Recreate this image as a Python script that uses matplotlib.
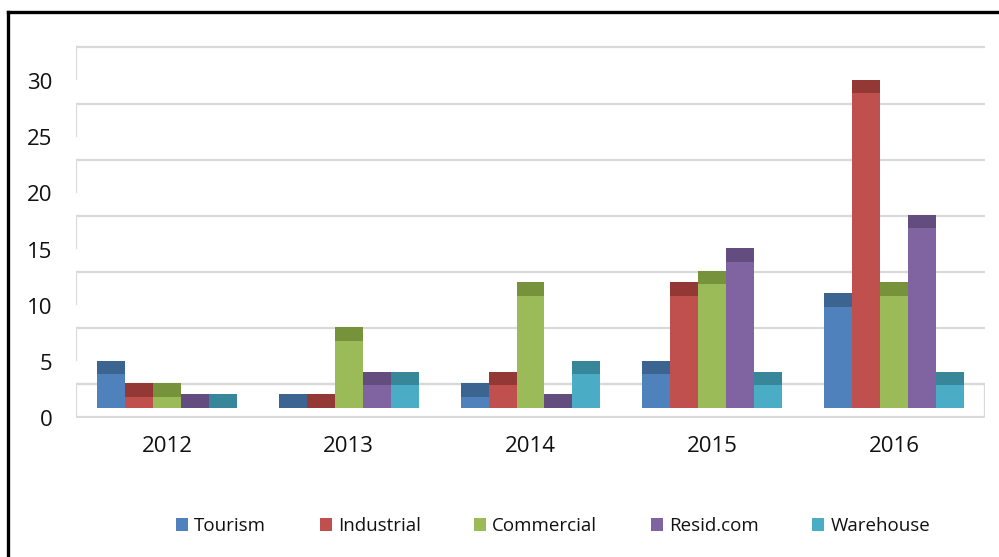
import matplotlib

matplotlib.use("Agg")
import matplotlib.pyplot as plt
import numpy as np
from matplotlib.lines import Line2D
from matplotlib.patches import Patch, Rectangle

plt.rcParams["font.family"] = ["Open Sans", "DejaVu Sans"]

# ---- Data ---------------------------------------------------------------
years = ["2012", "2013", "2014", "2015", "2016"]
series = ["Tourism", "Industrial", "Commercial", "Resid.com", "Warehouse"]
tourism = [3, 0, 1, 3, 9]
industrial = [1, 0, 2, 10, 28]
commercial = [1, 6, 10, 11, 10]
resid_com = [0, 2, 0, 13, 16]
warehouse = [0, 2, 3, 2, 2]
y_ticks = [0, 5, 10, 15, 20, 25, 30]

values = [tourism, industrial, commercial, resid_com, warehouse]
face_colors = ["#4f81bd", "#c0504d", "#9bbb59", "#8064a2", "#4bacc6"]
top_colors = ["#3c6491", "#943836", "#76933c", "#634c7e", "#378699"]

# ---- 3D-ish look parameters ---------------------------------------------
depth = 3.0        # back wall offset (value units)
base = 0.9         # bars stand a bit behind the front edge of the floor
cap = 1.2          # visible top face of each column
bar_w = 0.154
grid_col = "#d9d9d9"

W, H = 999, 557
fig = plt.figure(figsize=(W / 100, H / 100), dpi=100)
px_per_unit = 11.23
ax = fig.add_axes([76 / W, (H - 418) / H, 909 / W, 388 / H])
ax.set_xlim(-0.5, 4.5)
ax.set_ylim(0, 388 / px_per_unit)

# back wall gridlines + edge-on side wall
for v in y_ticks:
    ax.plot([-0.5, 4.5], [v + depth, v + depth], color=grid_col, lw=1.6,
            zorder=1, solid_capstyle="butt")
    if v > 0:
        ax.plot([-0.5, -0.5], [v + depth, v + 0.15], color=grid_col, lw=1.6,
                zorder=1)

# floor
ax.add_patch(Rectangle((-0.5, 0.05), 5.0, depth - 0.05, fill=False,
                       edgecolor=grid_col, lw=1.6, zorder=1))

x = np.arange(len(years))
for i, (vals, fc, tc) in enumerate(zip(values, face_colors, top_colors)):
    xs = x + (i - 2) * bar_w
    vals = np.asarray(vals, dtype=float)
    ax.bar(xs, vals, bar_w, bottom=base, color=fc, lw=0, zorder=3)
    ax.bar(xs, [cap] * len(xs), bar_w, bottom=base + vals, color=tc, lw=0,
           zorder=3)

ax.set_yticks(y_ticks)
ax.set_xticks(x)
ax.set_xticklabels(years)
ax.tick_params(axis="y", length=0, pad=17, labelsize=16, labelcolor="#111111")
ax.tick_params(axis="x", length=0, pad=13, labelsize=16, labelcolor="#111111")
for s in ax.spines.values():
    s.set_visible(False)

handles = [Patch(facecolor=c, edgecolor="none") for c in face_colors]
fig.legend(handles, series, loc="center", ncol=5,
           bbox_to_anchor=(553 / W, 1 - 526 / H), frameon=False,
           fontsize=13.5, handlelength=0.65, handleheight=0.65,
           handletextpad=0.32, columnspacing=2.85, labelcolor="#111111")

# chart frame (partially cropped in the reference)
fig.add_artist(Line2D([8 / W, 8 / W], [0, 1 - 12 / H], color="black", lw=2.4))
fig.add_artist(Line2D([8 / W, 1], [1 - 12 / H, 1 - 12 / H], color="black",
                      lw=2.4))

fig.savefig("out.png", dpi=100, facecolor="white")
